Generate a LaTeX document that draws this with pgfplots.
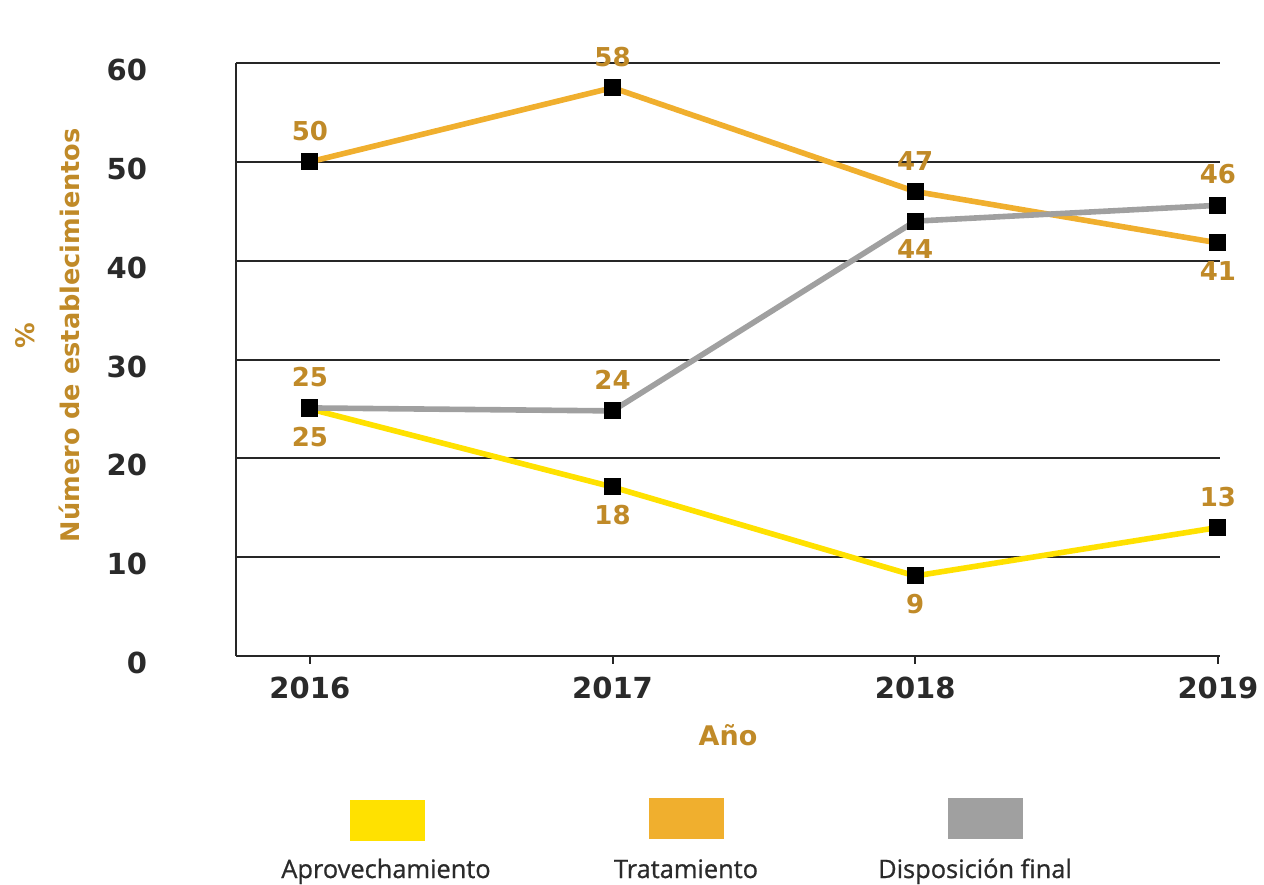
\documentclass[border=0pt]{standalone}
\usepackage{fontspec}
\setmainfont{DejaVu Sans}
\newfontfamily\legfont[FakeBold=0.8]{Open Sans}
\usepackage{pgfplots}
\pgfplotsset{compat=1.18}
\definecolor{cA}{HTML}{FFE100}
\definecolor{cT}{HTML}{F0AF2E}
\definecolor{cD}{HTML}{A0A0A0}
\definecolor{lab}{HTML}{C08A28}
\definecolor{txt}{HTML}{2A2A2A}
\pgfplotsset{
 labA/.style={draw=none, mark=none, forget plot, nodes near coords, point meta=explicit symbolic,
   every node near coord/.append style={anchor=south, font=\bfseries\fontsize{13}{14}\selectfont, text=lab, yshift=7pt}},
 labB/.style={draw=none, mark=none, forget plot, nodes near coords, point meta=explicit symbolic,
   every node near coord/.append style={anchor=north, font=\bfseries\fontsize{13}{14}\selectfont, text=lab, yshift=-5.75pt}},
 ser/.style={#1, line width=2.8pt, mark=square*, mark size=4pt, mark options={fill=black, draw=black, line width=0pt}}
}
\begin{document}
\begin{tikzpicture}[x=1pt,y=1pt]
\path[use as bounding box] (0,0) rectangle (632,442);
\begin{axis}[
 at={(118pt,114pt)}, anchor=south west,
 scale only axis, width=492pt, height=296.5pt,
 xmin=2015.756, xmax=2019.007, ymin=0, ymax=60,
 axis x line*=bottom, axis y line*=left,
 xtick={2016,2017,2018,2019}, ytick={0,10,...,60},
 /pgf/number format/1000 sep={},
 /pgf/number format/assume math mode=true,
 ymajorgrids, grid style={black!85, line width=1pt},
 axis line style={black!85, line width=1pt, -},
 tick align=outside, major tick length=4pt,
 x tick style={black!85, line width=1pt},
 y tick style={draw=none},
 tick label style={font=\bfseries\fontsize{14.5}{16}\selectfont, text=txt},
 yticklabel style={xshift=-37pt, yshift=-3.5pt},
 xticklabel style={yshift=-3pt},
 xlabel={Año},
 xlabel style={font=\bfseries\fontsize{13.5}{15}\selectfont, text=lab, at={(axis description cs:0.5,-0.133)}, anchor=center},
 ylabel={\%\\Número de establecimientos},
 ylabel style={font=\bfseries\fontsize{12.8}{22.5}\selectfont, text=lab, align=center, at={(axis description cs:-0.191,0.541)}, anchor=center},
 clip=false,
]
\addplot[ser=cA] coordinates {(2016,25) (2017,17.1) (2018,8.1) (2019,13)};
\addplot[ser=cT] coordinates {(2016,50) (2017,57.5) (2018,47) (2019,41.8)};
\addplot[ser=cD] coordinates {(2016,25.1) (2017,24.8) (2018,44) (2019,45.6)};
\addplot[labA] coordinates {(2016,50)[50] (2017,57.5)[58] (2018,47)[47]};
\addplot[labA] coordinates {(2016,25.1)[25] (2017,24.8)[24] (2019,45.6)[46]};
\addplot[labA] coordinates {(2019,13)[13]};
\addplot[labB] coordinates {(2019,41.8)[41]};
\addplot[labB] coordinates {(2018,44)[44]};
\addplot[labB] coordinates {(2016,25)[25] (2017,17.1)[18] (2018,8.1)[9]};
\end{axis}
\fill[cA] (175,21.5) rectangle (212.5,42);
\fill[cT] (324.5,22.5) rectangle (362,43);
\fill[cD] (474,22.5) rectangle (511.5,43);
\node[font=\legfont\fontsize{12.7}{14}\selectfont, text=txt, anchor=base] at (193,3) {Aprovechamiento};
\node[font=\legfont\fontsize{12.7}{14}\selectfont, text=txt, anchor=base] at (343,3) {Tratamiento};
\node[font=\legfont\fontsize{12.7}{14}\selectfont, text=txt, anchor=base] at (487.5,3) {Disposición final};
\end{tikzpicture}
\end{document}
